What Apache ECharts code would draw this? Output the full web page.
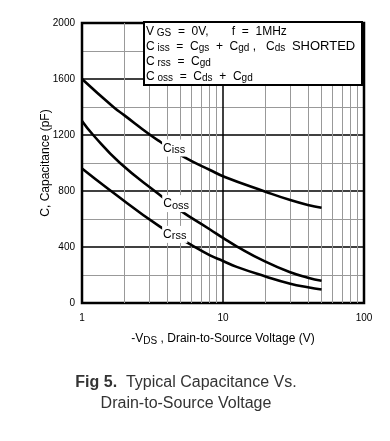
<!DOCTYPE html>
<html><head><meta charset="utf-8">
<script src="https://cdn.jsdelivr.net/npm/echarts@6/dist/echarts.min.js"></script>
<style>html,body{margin:0;padding:0;background:#fff}#c{width:390px;height:441px}</style>
</head><body><div id="c"></div>
<script>
// Data
const vdsTicks = [1, 10, 100];
const capTicks = [0, 400, 800, 1200, 1600, 2000];
const minorV = [2,3,4,5,6,7,8,9,20,30,40,50,60,70,80,90];
const cissV = [1, 1.67, 2, 3, 3.6, 5.23, 8.09, 10.3, 20, 30, 40, 50];
const cissC = [1600, 1400, 1340, 1205, 1150, 1045, 950, 900, 795, 735, 700, 680];
const cossV = [1, 1.2, 1.86, 3.53, 4.9, 8.09, 10, 12.5, 20, 30, 40, 50];
const cossC = [1300, 1200, 1000, 775, 665, 525, 465, 405, 295, 219, 181, 159];
const crssV = [1, 1.58, 3.57, 5.83, 8.09, 10, 12.5, 20, 30, 40, 50];
const crssC = [960, 805, 545, 420, 340, 300, 258, 190, 138, 112, 96];
const curveLabels = [
  {name:'Ciss', main:'C', sub:'iss', at:[4.5, 1107]},
  {name:'Coss', main:'C', sub:'oss', at:[4.65, 710]},
  {name:'Crss', main:'C', sub:'rss', at:[4.55, 490]}
];

const FONT = '"Liberation Sans", Arial, sans-serif';
const chart = echarts.init(document.getElementById('c'), null, {renderer:'canvas'});
function pairs(xs, ys){ return xs.map((x,i)=>[x, ys[i]]); }
function lineSeries(name, xs, ys, lab){
  return {
    type:'line', name, data: pairs(xs, ys), smooth: 0.5, symbol:'none',
    lineStyle:{color:'#000', width:2.6}, z:5,
    markPoint:{
      symbol:'rect', symbolSize:0, silent:true,
      data:[{coord: lab.at, value: lab.name}],
      label:{show:true, position:'inside', backgroundColor:'#fff', padding:[2,1,1,1],
        formatter: '{m|' + lab.main + '}{s|' + lab.sub + '}',
        rich:{ m:{fontFamily:FONT, fontSize:12, color:'#000'},
               s:{fontFamily:FONT, fontSize:11, color:'#000', padding:[3,0,0,0]} } },
      z:10
    }
  };
}
const subRich = { n:{fontFamily:FONT, fontSize:12, color:'#000'}, s:{fontFamily:FONT, fontSize:10, color:'#000', padding:[4,0,0,0]} };

const option = {
  animation:false,
  backgroundColor:'#fff',
  grid:{left:82, right:26, top:23, bottom:138, show:true, borderColor:'#000', borderWidth:2.5, backgroundColor:'transparent', z:4},
  xAxis:{
    type:'log', logBase:10, min:1, max:100,
    axisLine:{show:false}, axisTick:{show:false},
    axisLabel:{fontFamily:FONT, fontSize:10, color:'#000', margin:10,
      formatter:(v)=> vdsTicks.includes(v) ? String(v) : ''},
    splitLine:{show:true, lineStyle:{color:'#000', width:1.5}},
    minorTick:{show:false}, minorSplitLine:{show:false},
    name:'-V{s|DS} , Drain-to-Source Voltage (V)', nameLocation:'middle', nameGap:29, nameMoveOverlap:false,
    nameTextStyle:{fontFamily:FONT, fontSize:12, color:'#000', rich: subRich}
  },
  yAxis:{
    type:'value', min:0, max:2000, interval:400,
    axisLine:{show:false}, axisTick:{show:false},
    axisLabel:{fontFamily:FONT, fontSize:10, color:'#000', margin:7,
      formatter:(v)=> capTicks.includes(v) ? String(v) : ''},
    splitLine:{show:true, lineStyle:{color:'#000', width:1.5}},
    minorTick:{show:false, splitNumber:2},
    minorSplitLine:{show:true, lineStyle:{color:'#999', width:1}},
    name:'C, Capacitance (pF)', nameLocation:'middle', nameGap:30, nameRotate:90, nameMoveOverlap:false,
    nameTextStyle:{fontFamily:FONT, fontSize:12, color:'#000'}
  },
  series:[
    {type:'line', data:[], silent:true, z:1,
      markLine:{silent:true, symbol:'none', label:{show:false},
        lineStyle:{color:'#999', width:1, type:'solid'},
        data: minorV.map(v=>({xAxis:v}))}},
    lineSeries('Ciss', cissV, cissC, curveLabels[0]),
    lineSeries('Coss', cossV, cossC, curveLabels[1]),
    lineSeries('Crss', crssV, crssC, curveLabels[2])
  ],
  graphic:[
    {type:'rect', shape:{x:144, y:22, width:218, height:63}, style:{fill:'#fff', stroke:'#000', lineWidth:2}, z:20},
    {type:'text', x:146, y:24, z:21, style:{
      text:'V{s| GS}  =  0V,       f  =  1MHz\nC{s| iss}  =  C{s|gs}  +  C{s|gd} ,   C{s|ds}  {w|SHORTED}\nC{s| rss}  =  C{s|gd}\nC{s| oss}  =  C{s|ds}  +  C{s|gd}',
      font:'12px ' + FONT, fill:'#000', lineHeight:15,
      rich:{ s:{fontFamily:FONT, fontSize:10, fill:'#000', padding:[4,0,0,0]},
             w:{fontFamily:FONT, fontSize:13, fill:'#000'} }
    }},
    {type:'text', x:186, y:372, z:21, style:{
      text:'{b|Fig 5.}  Typical Capacitance Vs.\nDrain-to-Source Voltage',
      font:'16px ' + FONT, fill:'#333', align:'center', lineHeight:21,
      rich:{ b:{fontFamily:FONT, fontSize:16, fontWeight:'bold', fill:'#333'} }
    }}
  ]
};
chart.setOption(option);
</script></body></html>
